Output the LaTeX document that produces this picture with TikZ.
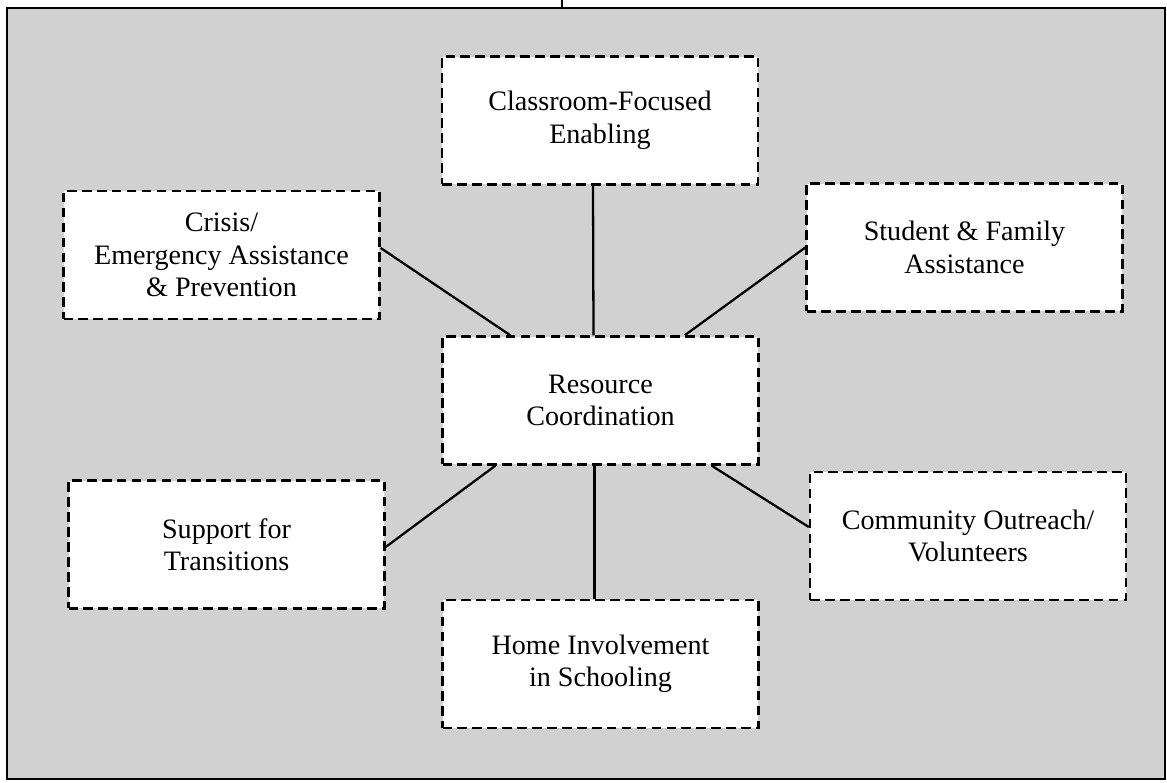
\documentclass[tikz,border=0pt]{standalone}
\usepackage{fontspec}
\setmainfont{Liberation Serif}
\usetikzlibrary{positioning}
\definecolor{panel}{gray}{0.82}
\tikzset{
  abox/.style={draw=black,fill=white,dash pattern=on 5.5pt off 3pt,line width=1.4pt,
    minimum width=6.32cm,minimum height=2.56cm,inner sep=0pt,align=center,
    font=\fontsize{16}{18.5}\selectfont},
  link/.style={line width=1.3pt,color=black},
  panelframe/.style={draw=black,fill=panel,line width=1.4pt},
}
\begin{document}
\begin{tikzpicture}[x=0.02cm,y=-0.02cm]
  \useasboundingbox (0,0) rectangle (1167,782);
  % shaded panel and the stub on its top edge
  \draw[panelframe] (7,8) rectangle (1165,779);
  \coordinate (stubtop) at (562,0); \coordinate (stubbot) at (562,8);
  \draw[link] (stubtop)--(stubbot);
  % the seven areas
  \node[abox] (cls) at (600,120.5){Classroom-Focused\\Enabling};
  \node[abox] (cri) at (221.5,255){Crisis/\\Emergency Assistance\\\& Prevention};
  \node[abox] (stu) at (964.5,247.5){Student \& Family\\Assistance};
  \node[abox] (res) at (600.5,400.5){Resource\\Coordination};
  \node[abox] (sup) at (226.5,544.5){Support for\\Transitions};
  \node[abox] (com) at (968,536){Community Outreach/\\Volunteers};
  \node[abox] (hom) at (600.5,664){Home Involvement\\in Schooling};
  % spokes into resource coordination
  \draw[link] ([xshift=-0.14cm]cls.south)--([xshift=-0.14cm]res.north);
  \draw[link] ([yshift=0.14cm]cri.east)--([xshift=1.38cm]res.north west);
  \draw[link] (stu.west)--([xshift=-1.5cm]res.north east);
  \draw[link] ([yshift=-0.05cm]sup.east)--([xshift=1.08cm]res.south west);
  \draw[link] ([xshift=-0.12cm]res.south)--([xshift=-0.12cm]hom.north);
  \draw[link] ([xshift=-0.96cm]res.south east)--([yshift=0.18cm]com.west);
\end{tikzpicture}
\end{document}
